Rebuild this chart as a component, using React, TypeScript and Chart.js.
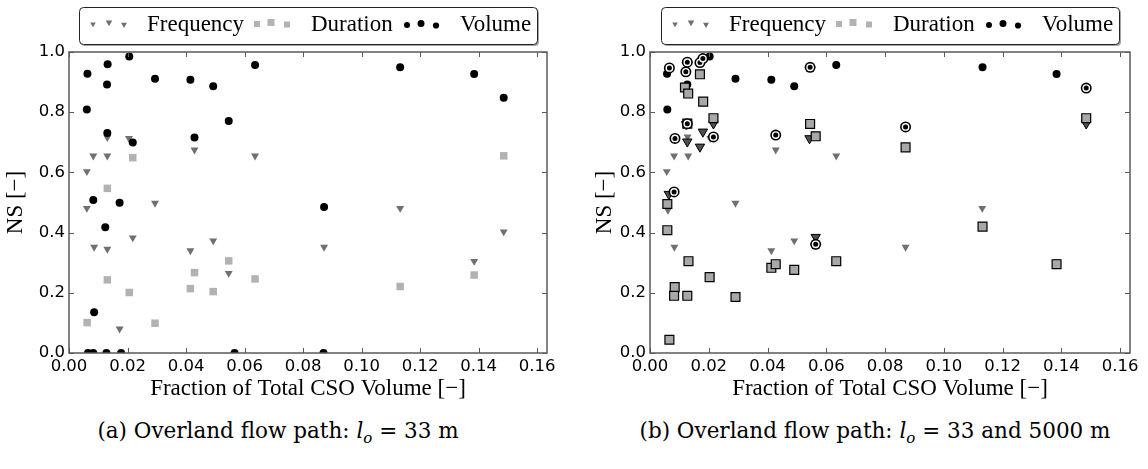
import React, { useEffect, useRef } from "react";
import { Chart, registerables } from "chart.js";

Chart.register(...registerables);

// ---------- axes ----------
const X_MAX = 0.1634;
const xTicks = [0, 0.02, 0.04, 0.06, 0.08, 0.1, 0.12, 0.14, 0.16];
const xTickLabels = ["0.00", "0.02", "0.04", "0.06", "0.08", "0.10", "0.12", "0.14", "0.16"];
const yTicks = [0, 0.2, 0.4, 0.6, 0.8, 1.0];
const yTickLabels = ["0.0", "0.2", "0.4", "0.6", "0.8", "1.0"];
const xTitle = "Fraction of Total CSO Volume [\u2212]";
const yTitle = "NS [\u2212]";
const legendLabels = ["Frequency", "Duration", "Volume"];
const captionA = "(a) Overland flow path: ";
const captionB = "(b) Overland flow path: ";
const captionTailA = " = 33 m";
const captionTailB = " = 33 and 5000 m";

// ---------- (a) l_o = 33 m ----------
const freqAX = [0.0061, 0.0061, 0.0083, 0.0131, 0.0131, 0.0205, 0.0086, 0.0131, 0.0218, 0.0173, 0.0294, 0.0415, 0.0429, 0.0493, 0.0546, 0.0636, 0.0872, 0.1132, 0.1385, 0.1486];
const freqAY = [0.603, 0.481, 0.655, 0.655, 0.716, 0.713, 0.352, 0.345, 0.383, 0.080, 0.498, 0.340, 0.675, 0.373, 0.265, 0.655, 0.352, 0.481, 0.305, 0.403];
const durAX = [0.0062, 0.0131, 0.0131, 0.0218, 0.0206, 0.0294, 0.0415, 0.0429, 0.0493, 0.0546, 0.0636, 0.1132, 0.1385, 0.1486];
const durAY = [0.101, 0.547, 0.243, 0.649, 0.201, 0.099, 0.214, 0.267, 0.204, 0.306, 0.246, 0.221, 0.259, 0.655];
const volAX = [0.0063, 0.0132, 0.0130, 0.0206, 0.0294, 0.0415, 0.0493, 0.0636, 0.0061, 0.0131, 0.0218, 0.0429, 0.0546, 0.0083, 0.0173, 0.0124, 0.0086, 0.1132, 0.1385, 0.1486, 0.0872, 0.0065, 0.0083, 0.0128, 0.0178, 0.0566, 0.0870];
const volAY = [0.928, 0.959, 0.892, 0.985, 0.911, 0.908, 0.886, 0.957, 0.809, 0.731, 0.699, 0.716, 0.771, 0.508, 0.499, 0.418, 0.135, 0.949, 0.927, 0.848, 0.485, 0, 0, 0, 0, 0, 0];

// ---------- (b) l_o = 33 and 5000 m ----------
const freqBX = [0.0057, 0.0082, 0.0130, 0.0128, 0.0205, 0.0083, 0.0291, 0.0413, 0.0428, 0.0491, 0.0634, 0.0870, 0.1131, 0.1385, 0.0061];
const freqBY = [0.603, 0.655, 0.655, 0.718, 0.713, 0.352, 0.498, 0.340, 0.675, 0.373, 0.655, 0.352, 0.481, 0.305, 0.475];
const volBX = [0.0058, 0.0059, 0.0127, 0.0203, 0.0291, 0.0413, 0.0491, 0.0634, 0.1132, 0.1384];
const volBY = [0.928, 0.809, 0.892, 0.985, 0.911, 0.908, 0.886, 0.957, 0.949, 0.927];
const freq5000X = [0.0127, 0.0180, 0.0170, 0.0123, 0.0064, 0.0216, 0.0543, 0.0564, 0.1485];
const freq5000Y = [0.702, 0.735, 0.685, 0.760, 0.528, 0.762, 0.713, 0.385, 0.762];
const dur5000X = [0.0170, 0.0119, 0.0130, 0.0181, 0.0216, 0.0059, 0.0059, 0.0131, 0.0084, 0.0082, 0.0127, 0.0203, 0.0291, 0.0066, 0.0413, 0.0428, 0.0491, 0.0127, 0.0545, 0.0564, 0.0634, 0.0870, 0.1132, 0.1384, 0.1485];
const dur5000Y = [0.926, 0.882, 0.862, 0.835, 0.780, 0.495, 0.408, 0.305, 0.219, 0.190, 0.190, 0.252, 0.186, 0.044, 0.283, 0.295, 0.276, 0.762, 0.761, 0.720, 0.305, 0.683, 0.420, 0.295, 0.780];
const vol5000X = [0.0066, 0.0127, 0.0122, 0.0170, 0.0180, 0.0127, 0.0085, 0.0216, 0.0082, 0.0428, 0.0545, 0.0870, 0.1485, 0.0564];
const vol5000Y = [0.947, 0.966, 0.934, 0.965, 0.978, 0.762, 0.713, 0.718, 0.535, 0.724, 0.949, 0.751, 0.880, 0.361];

// ---------- styles ----------
const FREQ = "#707070";
const FREQ_DARK = "#505050";
const DUR = "#b2b2b2";
const DUR_DARK = "#a8a8a8";
const VOL = "#000000";
const FRAME = "#5a5a5a";
const TICK_FONT = { family: "DejaVu Sans", size: 16.5 };
const LABEL_FONT = { family: "Liberation Serif", size: 23 };

const pts = (xs: number[], ys: number[]) => xs.map((x, i) => ({ x, y: ys[i] }));

const framePlugin = {
  id: "frame",
  afterDatasetsDraw(chart: any) {
    const { ctx, chartArea: a, scales } = chart;
    ctx.save();
    ctx.strokeStyle = FRAME;
    ctx.lineWidth = 1;
    const L = 5;
    ctx.beginPath();
    for (const v of xTicks) {
      const p = Math.round(scales.x.getPixelForValue(v)) + 0.5;
      ctx.moveTo(p, a.bottom);
      ctx.lineTo(p, a.bottom - L);
      ctx.moveTo(p, a.top);
      ctx.lineTo(p, a.top + L);
    }
    for (const v of yTicks) {
      const p = Math.round(scales.y.getPixelForValue(v)) + 0.5;
      ctx.moveTo(a.left, p);
      ctx.lineTo(a.left + L, p);
      ctx.moveTo(a.right, p);
      ctx.lineTo(a.right - L, p);
    }
    ctx.stroke();
    ctx.lineWidth = 1.5;
    ctx.strokeRect(a.left, a.top, a.right - a.left, a.bottom - a.top);
    ctx.restore();
  },
};

function tri(ctx: CanvasRenderingContext2D, x: number, y: number, r: number) {
  ctx.beginPath();
  ctx.moveTo(x, y + r);
  ctx.lineTo(x - r * 0.866, y - r * 0.5);
  ctx.lineTo(x + r * 0.866, y - r * 0.5);
  ctx.closePath();
  ctx.fill();
}

const legendPlugin = {
  id: "sciLegend",
  afterDraw(chart: any, _args: any, opts: any) {
    const ctx: CanvasRenderingContext2D = chart.ctx;
    const L = opts.left;
    const T = 7;
    const W = 458;
    const H = 37;
    ctx.save();
    ctx.fillStyle = "rgba(0,0,0,0.35)";
    ctx.beginPath();
    (ctx as any).roundRect(L + 2, T + 2, W, H, 4);
    ctx.fill();
    ctx.fillStyle = "#ffffff";
    ctx.strokeStyle = "#222222";
    ctx.lineWidth = 1;
    ctx.beginPath();
    (ctx as any).roundRect(L + 0.5, T + 0.5, W, H, 4);
    ctx.fill();
    ctx.stroke();

    ctx.fillStyle = FREQ;
    tri(ctx, L + 14, T + 17, 3.2);
    tri(ctx, L + 30, T + 15.5, 3.8);
    tri(ctx, L + 45, T + 17.5, 3.4);

    ctx.fillStyle = DUR;
    ctx.fillRect(L + 175, T + 14, 6, 6);
    ctx.fillRect(L + 188.5, T + 12, 7, 7);
    ctx.fillRect(L + 205, T + 14.5, 6, 6);

    ctx.fillStyle = VOL;
    ctx.beginPath(); ctx.arc(L + 328, T + 18, 3, 0, Math.PI * 2); ctx.fill();
    ctx.beginPath(); ctx.arc(L + 342, T + 16.5, 3.5, 0, Math.PI * 2); ctx.fill();
    ctx.beginPath(); ctx.arc(L + 357, T + 18.5, 3.1, 0, Math.PI * 2); ctx.fill();

    ctx.fillStyle = "#000";
    ctx.font = `${LABEL_FONT.size}px "${LABEL_FONT.family}"`;
    ctx.textBaseline = "alphabetic";
    ctx.textAlign = "left";
    ctx.fillText(legendLabels[0], L + 68, 31);
    ctx.fillText(legendLabels[1], L + 232, 31);
    ctx.fillText(legendLabels[2], L + 381, 31);
    ctx.restore();
  },
};

function makeConfig(datasets: any[], g: { padLeft: number; yWidth: number; padRight: number; legendLeft: number }) {
  return {
    type: "scatter" as const,
    data: { datasets },
    options: {
      animation: false,
      responsive: false,
      devicePixelRatio: 1,
      layout: { padding: { left: g.padLeft, right: g.padRight, top: 52, bottom: 7 } },
      plugins: {
        legend: { display: false },
        tooltip: { enabled: false },
        sciLegend: { left: g.legendLeft },
      },
      scales: {
        x: {
          type: "linear",
          min: 0,
          max: X_MAX,
          grid: { display: false, drawTicks: false },
          border: { display: false },
          afterBuildTicks: (s: any) => {
            s.ticks = xTicks.map((v) => ({ value: v }));
          },
          afterFit: (s: any) => {
            s.height = 50;
          },
          ticks: {
            autoSkip: false,
            maxRotation: 0,
            padding: 4,
            color: "#000",
            font: TICK_FONT,
            callback: (_v: any, i: number) => xTickLabels[i],
          },
          title: { display: true, text: xTitle, color: "#000", font: LABEL_FONT, padding: 0 },
        },
        y: {
          type: "linear",
          min: 0,
          max: 1,
          grid: { display: false, drawTicks: false },
          border: { display: false },
          afterBuildTicks: (s: any) => {
            s.ticks = yTicks.map((v) => ({ value: v }));
          },
          afterFit: (s: any) => {
            s.width = g.yWidth;
          },
          ticks: {
            autoSkip: false,
            padding: 4,
            color: "#000",
            font: TICK_FONT,
            callback: (_v: any, i: number) => yTickLabels[i],
          },
          title: { display: true, text: yTitle, color: "#000", font: LABEL_FONT, padding: 0 },
        },
      },
    },
    plugins: [framePlugin, legendPlugin],
  };
}

const triSet = (label: string, xs: number[], ys: number[], color: string, r: number, order: number, edge = false) => ({
  label,
  data: pts(xs, ys),
  pointStyle: "triangle",
  pointRotation: 180,
  pointRadius: r,
  pointBackgroundColor: color,
  pointBorderColor: "#000",
  pointBorderWidth: edge ? 1 : 0,
  order,
  clip: 0,
});
const sqSet = (label: string, xs: number[], ys: number[], color: string, r: number, order: number, edge = false) => ({
  label,
  data: pts(xs, ys),
  pointStyle: "rect",
  pointRadius: r,
  pointBackgroundColor: color,
  pointBorderColor: "#000",
  pointBorderWidth: edge ? 1.2 : 0,
  order,
  clip: 0,
});
const dotSet = (label: string, xs: number[], ys: number[], r: number, order: number, ring = false) => ({
  label,
  data: pts(xs, ys),
  pointStyle: "circle",
  pointRadius: r,
  pointBackgroundColor: VOL,
  pointBorderColor: "#fff",
  pointBorderWidth: ring ? 1.4 : 0,
  order,
  clip: 0,
});

export default function App() {
  const refA = useRef<HTMLCanvasElement>(null);
  const refB = useRef<HTMLCanvasElement>(null);

  useEffect(() => {
    const dsA = [
      triSet("Frequency", freqAX, freqAY, FREQ, 4.6, 2),
      sqSet("Duration", durAX, durAY, DUR, 5.3, 1),
      dotSet("Volume", volAX, volAY, 4, 0),
    ];
    const dsB = [
      triSet("Frequency 33 m", freqBX, freqBY, FREQ, 4.6, 5),
      dotSet("Volume 33 m", volBX, volBY, 4, 4),
      triSet("Frequency 5000 m", freq5000X, freq5000Y, FREQ_DARK, 5.4, 3, true),
      sqSet("Duration 5000 m", dur5000X, dur5000Y, DUR_DARK, 6.3, 2, true),
      dotSet("Volume 5000 m (outer)", vol5000X, vol5000Y, 5.5, 1),
      dotSet("Volume 5000 m", vol5000X, vol5000Y, 3.2, 0, true),
    ];
    const a = new Chart(refA.current as HTMLCanvasElement, makeConfig(dsA, { padLeft: 2, yWidth: 67, padRight: 27, legendLeft: 79 }) as any);
    const b = new Chart(refB.current as HTMLCanvasElement, makeConfig(dsB, { padLeft: 17, yWidth: 59, padRight: 18, legendLeft: 87 }) as any);
    return () => {
      a.destroy();
      b.destroy();
    };
  }, []);

  const capStyle: React.CSSProperties = {
    position: "absolute",
    top: 418,
    width: 700,
    textAlign: "center",
    fontFamily: '"DejaVu Serif"',
    fontSize: 21.5,
    lineHeight: "26px",
    color: "#000",
    whiteSpace: "nowrap",
  };
  const sub = (
    <span style={{ fontStyle: "italic" }}>
      l<span style={{ fontSize: "70%", verticalAlign: "-0.3em", lineHeight: 0 }}>o</span>
    </span>
  );

  return (
    <div style={{ position: "absolute", left: 0, top: 0, width: 1148, height: 469, background: "#fff", overflow: "hidden" }}>
      <canvas ref={refA} width={574} height={410} style={{ position: "absolute", left: 0, top: 0, width: 574, height: 410 }} />
      <canvas ref={refB} width={574} height={410} style={{ position: "absolute", left: 574, top: 0, width: 574, height: 410 }} />
      <div style={{ ...capStyle, left: 278 - 350 }}>
        {captionA}
        {sub}
        {captionTailA}
      </div>
      <div style={{ ...capStyle, left: 875 - 350 }}>
        {captionB}
        {sub}
        {captionTailB}
      </div>
    </div>
  );
}
